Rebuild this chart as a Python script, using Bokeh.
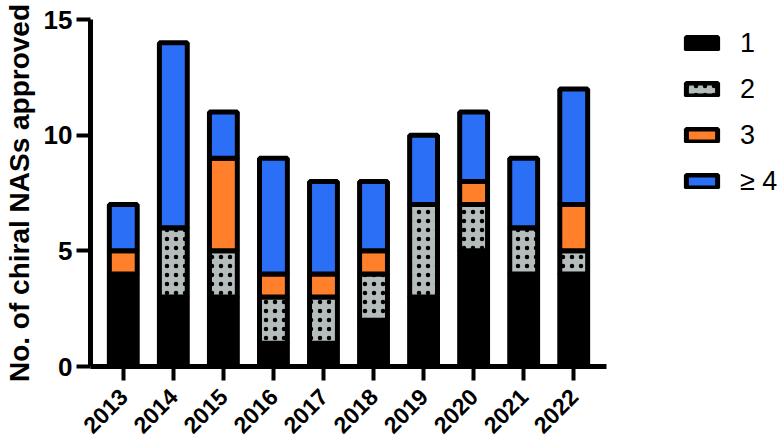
from math import pi
from bokeh.plotting import figure
from bokeh.layouts import row
from bokeh.models import FactorRange, Range1d, FixedTicker, Legend, LegendItem, ColumnDataSource
from bokeh.embed import file_html
from bokeh.resources import INLINE

years = ["2013", "2014", "2015", "2016", "2017", "2018", "2019", "2020", "2021", "2022"]
s_one = [4, 3, 3, 1, 1, 2, 3, 5, 4, 4]
s_two = [0, 3, 2, 2, 2, 2, 4, 2, 2, 1]
s_three = [1, 0, 4, 1, 1, 1, 0, 1, 0, 2]
s_four = [2, 8, 2, 5, 4, 3, 3, 3, 3, 5]
series_names = ["1", "2", "3", "≥ 4"]
y_ticks = [0, 5, 10, 15]

colors = ["#000000", "#B4BCBC", "#FF7F2A", "#2A6FF5"]
hatches = [" ", "dot", " ", " "]
style = dict(line_color="black", line_width=5, hatch_color="black", hatch_scale=9, hatch_weight=1.3)

src = ColumnDataSource(dict(year=years, s1=s_one, s2=s_two, s3=s_three, s4=s_four))

p = figure(x_range=FactorRange(*years, range_padding=0.031),
           y_range=Range1d(0, 15),
           width=616, height=446,
           output_backend="svg", toolbar_location=None,
           min_border_left=85, min_border_top=19,
           min_border_right=10, min_border_bottom=80)

p.vbar_stack(["s1", "s2", "s3", "s4"], x="year", width=0.557, source=src,
             fill_color=colors, hatch_pattern=hatches, **style)

p.xgrid.visible = False
p.ygrid.visible = False
p.outline_line_color = None

for ax in (p.xaxis[0], p.yaxis[0]):
    ax.axis_line_width = 5
    ax.axis_line_color = "black"
    ax.major_tick_line_width = 4
    ax.major_tick_line_color = "black"
    ax.major_tick_out = 14
    ax.major_tick_in = 0
    ax.minor_tick_line_color = None
    ax.major_label_text_font = "Liberation Sans"
    ax.major_label_text_font_style = "bold"
    ax.major_label_text_color = "black"

p.yaxis.major_label_text_font_size = "26px"
p.xaxis.major_label_text_font_size = "23px"

p.yaxis.ticker = FixedTicker(ticks=y_ticks)
p.yaxis.major_label_standoff = 4
p.yaxis.axis_label = "No. of chiral NASs approved"
p.yaxis.axis_label_text_font = "Liberation Sans"
p.yaxis.axis_label_text_font_style = "bold"
p.yaxis.axis_label_text_font_size = "28px"
p.yaxis.axis_label_text_color = "black"
p.yaxis.axis_label_standoff = 6

p.xaxis.major_label_orientation = pi / 4
p.xaxis.major_label_standoff = 12

# legend panel
p2 = figure(width=164, height=446, output_backend="svg", toolbar_location=None,
            x_range=Range1d(0, 1), y_range=Range1d(0, 1),
            min_border_left=0, min_border_right=0, min_border_top=19, min_border_bottom=80)
p2.axis.visible = False
p2.grid.visible = False
p2.outline_line_color = None
leg_rs = []
for c, h in zip(colors, hatches):
    leg_rs.append(p2.vbar(x=[50], top=[0], width=0.5, fill_color=c, hatch_pattern=h, **style))

legend = Legend(items=[LegendItem(label=n, renderers=[r]) for n, r in zip(series_names, leg_rs)],
                location=(66, 168), border_line_color=None, background_fill_alpha=0,
                label_text_font_size="27px", label_text_font="Liberation Sans",
                label_text_color="black",
                glyph_width=39, glyph_height=16, label_height=34, spacing=12,
                padding=0, margin=0, label_standoff=19)
p2.add_layout(legend)

open("out.html", "w").write(file_html(row(p, p2), INLINE))
